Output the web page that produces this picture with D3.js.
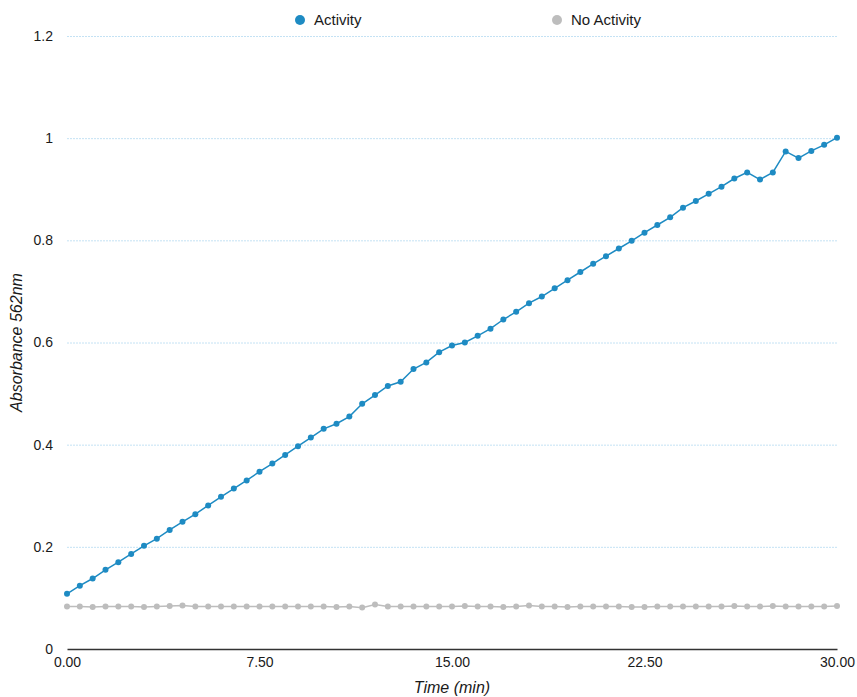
<!DOCTYPE html>
<html>
<head>
<meta charset="utf-8">
<script src="https://cdn.jsdelivr.net/npm/d3@7"></script>
<style>
  body { margin: 0; background: #fff; }
  svg text { font-family: "Liberation Sans", Arial, Helvetica, sans-serif; fill: #1a1a1a; }
</style>
</head>
<body>
<svg id="chart"></svg>
<script>
// chart size
var width = 857;
var height = 697;
var margin = {top: 36, right: 20, bottom: 48, left: 67};

// data, time in minutes (every 30 s)
var times = d3.range(0, 30.01, 0.5);
var activity = [
  0.108, 0.124, 0.138, 0.155, 0.170, 0.186, 0.202, 0.216, 0.233, 0.249,
  0.264, 0.281, 0.298, 0.314, 0.330, 0.347, 0.363, 0.380, 0.397, 0.414,
  0.431, 0.441, 0.455, 0.480, 0.497, 0.515, 0.523, 0.548, 0.561, 0.581,
  0.594, 0.600, 0.613, 0.627, 0.645, 0.660, 0.677, 0.690, 0.706, 0.722,
  0.738, 0.754, 0.769, 0.784, 0.799, 0.815, 0.830, 0.845, 0.864, 0.877,
  0.891, 0.905, 0.921, 0.933, 0.919, 0.933, 0.974, 0.961, 0.975, 0.987,
  1.001
];
var noActivity = [
  0.083, 0.083, 0.082, 0.083, 0.083, 0.083, 0.082, 0.083, 0.084, 0.085,
  0.083, 0.083, 0.083, 0.083, 0.083, 0.083, 0.083, 0.083, 0.083, 0.083,
  0.083, 0.082, 0.083, 0.081, 0.087, 0.083, 0.083, 0.083, 0.083, 0.083,
  0.083, 0.084, 0.083, 0.083, 0.082, 0.083, 0.085, 0.083, 0.083, 0.082,
  0.083, 0.083, 0.083, 0.083, 0.082, 0.082, 0.083, 0.083, 0.083, 0.083,
  0.083, 0.083, 0.084, 0.083, 0.083, 0.084, 0.083, 0.083, 0.083, 0.083,
  0.084
];
var xTicks = [0, 7.5, 15, 22.5, 30];
var yTicks = [0, 0.2, 0.4, 0.6, 0.8, 1, 1.2];

var series = [
  {name: "Activity", values: activity, color: "#1e8bc3"},
  {name: "No Activity", values: noActivity, color: "#bdbdbd"}
];

var svg = d3.select("#chart")
  .attr("width", width)
  .attr("height", height);

var x = d3.scaleLinear()
  .domain([0, 30])
  .range([margin.left, width - margin.right]);

var y = d3.scaleLinear()
  .domain([0, 1.2])
  .range([height - margin.bottom, margin.top]);

// gridlines
svg.append("g")
  .selectAll("line")
  .data(yTicks.filter(function (d) { return d > 0; }))
  .enter()
  .append("line")
  .attr("x1", x(0))
  .attr("x2", x(30))
  .attr("y1", function (d) { return y(d) + 0.5; })
  .attr("y2", function (d) { return y(d) + 0.5; })
  .attr("stroke", "#c4e2f4")
  .attr("stroke-width", 1)
  .attr("stroke-dasharray", "2,1");

// y axis labels (no line)
var yAxis = svg.append("g")
  .attr("transform", "translate(" + margin.left + ",0)")
  .call(d3.axisLeft(y).tickValues(yTicks).tickSize(0).tickPadding(14)
    .tickFormat(function (d) { return d3.format("~g")(d); }));
yAxis.select(".domain").remove();
yAxis.selectAll("text").style("font-size", "14px").attr("fill", "#1a1a1a");

// x axis
var xAxis = svg.append("g")
  .attr("transform", "translate(0," + y(0) + ")")
  .call(d3.axisBottom(x).tickValues(xTicks).tickSize(0).tickPadding(8)
    .tickFormat(d3.format(".2f")));
xAxis.select(".domain")
  .attr("stroke", "#333")
  .attr("stroke-width", 1.5);
xAxis.selectAll("text").style("font-size", "14px").attr("fill", "#1a1a1a");

// axis titles
svg.append("text")
  .text("Time (min)")
  .attr("x", (x(0) + x(30)) / 2)
  .attr("y", 693)
  .attr("text-anchor", "middle")
  .style("font-size", "16px")
  .style("font-style", "italic");

svg.append("text")
  .text("Absorbance 562nm")
  .attr("transform", "translate(22," + y(0.6) + ") rotate(-90)")
  .attr("text-anchor", "middle")
  .style("font-size", "16px")
  .style("font-style", "italic");

// lines and points
var line = d3.line()
  .x(function (d, i) { return x(times[i]); })
  .y(function (d) { return y(d); });

series.slice().reverse().forEach(function (s) {
  var g = svg.append("g").attr("class", "series");
  g.append("path")
    .datum(s.values)
    .attr("d", line)
    .attr("fill", "none")
    .attr("stroke", s.color)
    .attr("stroke-width", 1.5);
  g.selectAll("circle")
    .data(s.values)
    .enter()
    .append("circle")
    .attr("cx", function (d, i) { return x(times[i]); })
    .attr("cy", function (d) { return y(d); })
    .attr("r", 3)
    .attr("fill", s.color);
});

// legend
var legendX = [300, 557];
var legend = svg.append("g")
  .selectAll("g")
  .data(series)
  .enter()
  .append("g")
  .attr("transform", function (d, i) { return "translate(" + legendX[i] + ",20)"; });

legend.append("circle")
  .attr("r", 5)
  .attr("fill", function (d) { return d.color; });

legend.append("text")
  .text(function (d) { return d.name; })
  .attr("x", 14)
  .attr("y", 5)
  .style("font-size", "15px");
</script>
</body>
</html>
